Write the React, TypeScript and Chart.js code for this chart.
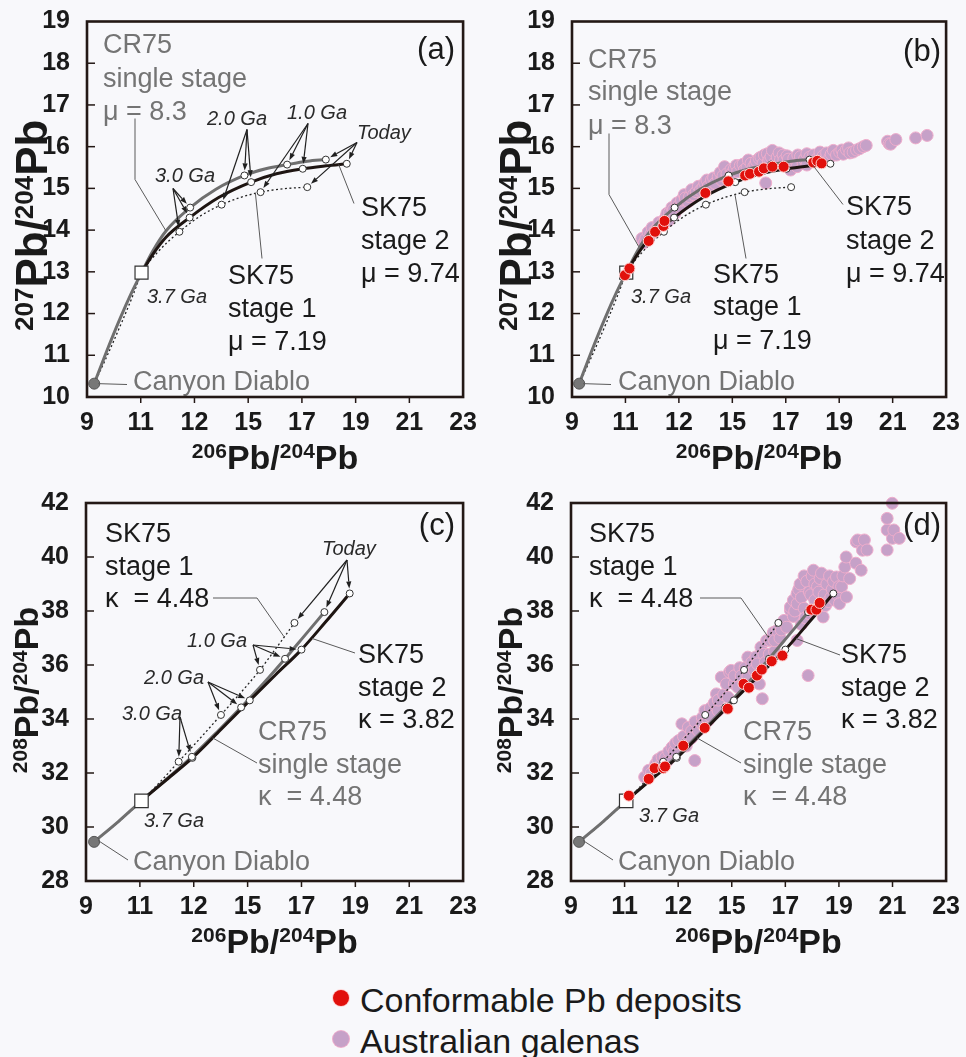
import React, { useEffect, useRef } from "react";
import { Chart, registerables } from "chart.js";

Chart.register(...registerables);

type Pt = [number, number];

const FONT = '"Liberation Sans", Arial, Helvetica, sans-serif';
const BG = "#f8f8fb";
const FRAME = "#231815";
const INK = "#1a1a1a";
const GREY_TEXT = "#747474";
const GREY_LINE = "#6f6f6f";
const BLACK_LINE = "#1e1512";
const RED = "#e1100c";
const RED_EDGE = "#ffd2d2";
const PINK = "#c6a1c8";
const PINK_EDGE = "#eeaccb";

// ---------------- axes ----------------
const xTickValues = [9, 11, 13, 15, 17, 19, 21, 23];
const xTickLabels = ["9", "11", "12", "15", "17", "19", "21", "23"];
const y207Ticks = [10, 11, 12, 13, 14, 15, 16, 17, 18, 19];
const y208Ticks = [28, 30, 32, 34, 36, 38, 40, 42];

// ---------------- 206Pb/204Pb vs 207Pb/204Pb (a, b) ----------------
const canyonDiablo207: Pt[] = [[9.27, 10.32]];
const start37Ga207: Pt[] = [[11.03, 12.98]];
const cr75Curve207: Pt[] = [
  [9.27, 10.32], [9.74, 11.11], [10.23, 11.88], [10.66, 12.5], [11.03, 12.98],
  [11.45, 13.5], [11.94, 13.98], [12.84, 14.54], [13.8, 14.98], [14.86, 15.31],
  [15.65, 15.47], [16.45, 15.57], [17.2, 15.65], [17.89, 15.69],
];
const sk75Stage2Curve207: Pt[] = [
  [11.03, 12.98], [11.45, 13.42], [11.94, 13.83], [12.82, 14.3], [13.9, 14.78],
  [15.11, 15.15], [16.05, 15.35], [17.03, 15.47], [17.9, 15.54], [18.67, 15.59],
];
const sk75Stage1Curve207: Pt[] = [
  [9.27, 10.32], [9.8, 11.06], [10.3, 11.8], [10.7, 12.42], [11.03, 12.96],
  [11.6, 13.45], [12.44, 13.96], [13.2, 14.33], [14.01, 14.61], [14.7, 14.78],
  [15.46, 14.91], [16.3, 14.99], [17.2, 15.03],
];
const cr75Nodes207: Pt[] = [[12.84, 14.54], [14.86, 15.31], [16.45, 15.57], [17.89, 15.69]];
const sk75Stage2Nodes207: Pt[] = [[12.82, 14.3], [15.11, 15.15], [17.03, 15.47], [18.67, 15.59]];
const sk75Stage1Nodes207: Pt[] = [[12.44, 13.96], [14.01, 14.61], [15.46, 14.91], [17.2, 15.03]];
const conformable207: Pt[] = [
  [10.98, 12.92], [11.15, 13.08], [11.87, 13.74], [12.11, 13.96], [12.42, 14.1],
  [12.46, 14.22], [13.99, 14.89], [14.85, 15.17], [15.48, 15.31], [15.66, 15.35],
  [16.0, 15.4], [16.18, 15.48], [16.5, 15.52], [16.92, 15.52], [18.03, 15.62],
  [18.18, 15.66], [18.34, 15.6],
];
const galenas207: Pt[] = [
  [11.62, 13.8], [11.7, 13.7], [11.76, 13.79], [11.85, 13.95], [11.95, 13.9],
  [12.0, 14.06], [12.1, 13.98], [12.2, 14.05], [12.25, 14.18], [12.35, 14.1],
  [12.4, 14.2], [12.5, 14.3], [12.55, 14.4], [12.6, 14.22], [12.65, 14.42],
  [12.74, 14.54], [12.8, 14.5], [12.85, 14.4], [12.93, 14.65], [13.0, 14.6],
  [13.05, 14.55], [13.1, 14.72], [13.2, 14.85], [13.24, 14.77], [13.35, 14.68],
  [13.4, 14.8], [13.48, 14.97], [13.55, 14.85], [13.65, 14.92], [13.73, 15.05],
  [13.8, 14.95], [13.9, 15.02], [13.97, 15.13], [14.05, 15.2], [14.1, 15.05],
  [14.22, 15.2], [14.3, 15.25], [14.35, 15.12], [14.47, 15.28], [14.55, 15.38],
  [14.6, 15.2], [14.65, 15.3], [14.71, 15.52], [14.8, 15.35], [14.95, 15.45],
  [15.0, 15.38], [15.08, 15.48], [15.15, 15.55], [15.2, 15.4], [15.3, 15.55],
  [15.4, 15.58], [15.45, 15.44], [15.55, 15.5], [15.6, 15.68], [15.7, 15.6],
  [15.8, 15.52], [15.85, 15.58], [15.9, 15.66], [16.0, 15.72], [16.07, 15.75],
  [16.15, 15.6], [16.2, 15.8], [16.25, 15.13], [16.31, 15.83], [16.35, 15.66],
  [16.4, 15.7], [16.45, 15.76], [16.5, 15.91], [16.6, 15.62], [16.68, 15.75],
  [16.75, 15.85], [16.8, 15.68], [16.9, 15.8], [16.93, 15.67], [17.05, 15.78],
  [17.1, 15.7], [17.18, 15.44], [17.3, 15.64], [17.3, 15.72], [17.42, 15.52],
  [17.45, 15.8], [17.55, 15.76], [17.65, 15.6], [17.7, 15.7], [17.79, 15.83],
  [17.79, 15.56], [17.9, 15.75], [18.0, 15.7], [18.04, 15.8], [18.15, 15.7],
  [18.28, 15.87], [18.28, 15.66], [18.4, 15.78], [18.45, 15.7], [18.53, 15.85],
  [18.65, 15.74], [18.7, 15.82], [18.78, 15.91], [18.9, 15.8], [19.02, 15.87],
  [19.1, 15.92], [19.15, 15.82], [19.27, 15.93], [19.35, 15.97], [19.4, 15.85],
  [19.52, 15.87], [19.65, 15.92], [19.76, 15.95], [19.9, 16.0], [20.01, 16.03],
  [20.81, 16.13], [20.87, 16.07], [20.93, 16.06], [21.12, 16.17], [21.86, 16.21],
  [22.29, 16.27],
];

// ---------------- 206Pb/204Pb vs 208Pb/204Pb (c, d) ----------------
const canyonDiablo208: Pt[] = [[9.3, 29.45]];
const start37Ga208: Pt[] = [[11.06, 30.97]];
const cr75Curve208: Pt[] = [
  [9.3, 29.45], [10.2, 30.2], [11.06, 30.97], [12.0, 31.78], [12.93, 32.6],
  [13.85, 33.5], [14.76, 34.43], [15.6, 35.33], [16.39, 36.23], [17.1, 37.07],
  [17.85, 37.96],
];
const sk75Stage2Curve208: Pt[] = [
  [11.06, 30.97], [12.0, 31.76], [12.95, 32.56], [14.0, 33.6], [15.08, 34.69],
  [16.05, 35.65], [17.0, 36.57], [17.9, 37.6], [18.79, 38.65],
];
const sk75Stage1Curve208: Pt[] = [
  [9.3, 29.45], [10.2, 30.18], [11.06, 30.97], [11.8, 31.72], [12.44, 32.42],
  [13.25, 33.3], [14.01, 34.15], [14.75, 34.98], [15.46, 35.82], [16.1, 36.68],
  [16.74, 37.56],
];
const cr75Nodes208: Pt[] = [[12.93, 32.6], [14.76, 34.43], [16.39, 36.23], [17.85, 37.96]];
const sk75Stage2Nodes208: Pt[] = [[12.95, 32.56], [15.08, 34.69], [17.0, 36.57], [18.79, 38.65]];
const sk75Stage1Nodes208: Pt[] = [[12.44, 32.42], [14.01, 34.15], [15.46, 35.82], [16.74, 37.56]];
const conformable208: Pt[] = [
  [11.16, 31.16], [11.9, 31.78], [12.12, 32.18], [12.45, 32.18], [12.51, 32.24],
  [13.19, 33.01], [13.99, 33.67], [14.85, 34.38], [15.44, 35.3], [15.64, 35.16],
  [15.94, 35.61], [16.12, 35.83], [16.49, 36.14], [16.89, 36.35], [17.97, 38.05],
  [18.16, 38.05], [18.28, 38.3],
];
const galenas208: Pt[] = [
  [11.75, 31.85], [11.9, 32.1], [12.0, 32.0], [12.16, 32.33], [12.25, 32.5],
  [12.3, 32.25], [12.4, 32.6], [12.53, 32.58], [12.6, 32.45], [12.65, 32.8],
  [12.77, 32.95], [12.85, 32.8], [12.9, 33.1], [13.02, 33.2], [13.14, 33.82],
  [13.2, 33.35], [13.3, 33.0], [13.38, 33.2], [13.38, 33.69], [13.5, 33.55],
  [13.5, 33.3], [13.62, 32.46], [13.63, 33.9], [13.75, 33.57], [13.9, 34.05],
  [13.9, 33.8], [14.0, 34.31], [14.12, 33.94], [14.2, 34.4], [14.2, 34.1],
  [14.35, 34.6], [14.43, 34.93], [14.49, 34.31], [14.5, 34.7], [14.61, 35.55],
  [14.7, 34.9], [14.8, 35.3], [14.86, 34.81], [14.92, 35.74], [14.98, 35.8],
  [15.1, 35.3], [15.1, 35.6], [15.23, 35.18], [15.3, 35.9], [15.35, 35.6],
  [15.5, 35.9], [15.6, 35.55], [15.6, 36.29], [15.75, 36.1], [15.84, 35.8],
  [15.9, 36.3], [15.96, 36.04], [16.03, 35.3], [16.09, 36.66], [16.14, 34.75],
  [16.2, 36.4], [16.25, 36.1], [16.3, 36.9], [16.4, 36.4], [16.45, 36.91],
  [16.55, 37.2], [16.6, 36.5], [16.6, 36.9], [16.7, 37.28], [16.8, 37.0],
  [16.85, 37.3], [16.95, 37.65], [17.05, 37.4], [17.19, 38.03], [17.19, 38.15],
  [17.3, 37.8], [17.3, 38.4], [17.35, 38.0], [17.44, 38.27], [17.44, 38.65],
  [17.44, 36.91], [17.5, 38.8], [17.55, 39.0], [17.6, 38.5], [17.6, 37.5],
  [17.7, 38.1], [17.7, 39.3], [17.75, 37.75], [17.8, 39.1], [17.85, 35.61],
  [17.9, 38.7], [17.9, 37.9], [17.95, 38.6], [18.0, 39.3], [18.0, 38.0],
  [18.05, 39.51], [18.1, 38.4], [18.1, 39.0], [18.2, 38.9], [18.2, 38.1],
  [18.25, 38.7], [18.3, 39.2], [18.35, 39.4], [18.41, 37.78], [18.45, 38.6],
  [18.5, 38.2], [18.55, 39.0], [18.6, 38.35], [18.65, 39.3], [18.7, 38.5],
  [18.75, 38.8], [18.8, 39.1], [18.85, 38.4], [18.91, 39.26], [18.95, 38.6],
  [19.0, 38.9], [19.02, 38.27], [19.1, 38.9], [19.15, 39.3], [19.22, 39.63],
  [19.27, 40.0], [19.28, 38.52], [19.4, 39.2], [19.63, 39.77], [19.65, 40.56],
  [19.7, 40.63], [19.83, 39.51], [19.88, 40.25], [19.95, 40.63], [20.05, 40.26],
  [20.8, 40.26], [20.8, 41.0], [20.8, 41.43], [20.99, 41.99], [21.0, 40.69],
  [21.05, 41.0], [21.25, 40.69],
];

// ---------------- helpers ----------------
const xy = (arr: Pt[]) => arr.map(([x, y]) => ({ x, y }));

function curve(arr: Pt[], color: string, width: number, order: number, dash: number[] = []) {
  return {
    type: "line",
    data: xy(arr),
    showLine: true,
    borderColor: color,
    borderWidth: width,
    borderDash: dash,
    borderCapStyle: "butt",
    pointRadius: 0,
    pointHoverRadius: 0,
    cubicInterpolationMode: "monotone",
    fill: false,
    order,
    clip: false,
  };
}

function pts(arr: Pt[], r: number, bg: string, border: string, bw: number, order: number, style = "circle") {
  return {
    type: "scatter",
    data: xy(arr),
    showLine: false,
    pointRadius: r,
    pointHoverRadius: r,
    pointBackgroundColor: bg,
    pointBorderColor: border,
    pointBorderWidth: bw,
    pointStyle: style,
    order,
    clip: false,
  };
}

type TextItem = { t: string; x: number; y: number; color: string; font: string; align?: CanvasTextAlign };
type Leader = { pts: Pt[]; end: Pt };
type ArrowSet = { from: Pt; to: Pt[] };
type TitlePart = { t: string; sup?: boolean };

interface PanelCfg {
  key: string;
  left: number;
  top: number;
  w: number;
  h: number;
  yTicks: number[];
  yAxisWidth: number;
  padRight: number;
  padTop: number;
  padBottom: number;
  yTitle: TitlePart[];
  yTitleSize: number;
  yTitleSup: number;
  yTitleRaise: number;
  yTitleDx: number;
  yTitleDy: number;
  datasets: any[];
  texts: TextItem[];
  leaders: Leader[];
  arrows: ArrowSet[];
}

const FT = `27px ${FONT}`;
const FIT = `italic 20px ${FONT}`;
const FTAG = `31px ${FONT}`;
const T = (t: string, x: number, y: number, color: string, font: string, align?: CanvasTextAlign): TextItem => ({ t, x, y, color, font, align });
const block = (lines: string[], x: number, ys: number[], color: string, font: string) =>
  lines.map((l, i) => T(l, x, ys[i], color, font));

const title207: TitlePart[] = [{ t: "207", sup: true }, { t: "Pb" }, { t: "/" }, { t: "204", sup: true }, { t: "Pb" }];
const title208: TitlePart[] = [{ t: "208", sup: true }, { t: "Pb" }, { t: "/" }, { t: "204", sup: true }, { t: "Pb" }];
const title206: TitlePart[] = [{ t: "206", sup: true }, { t: "Pb" }, { t: "/" }, { t: "204", sup: true }, { t: "Pb" }];

function drawTitle(ctx: CanvasRenderingContext2D, parts: TitlePart[], size: number, supSize: number, raise: number) {
  const main = `bold ${size}px ${FONT}`;
  const sup = `bold ${supSize}px ${FONT}`;
  let w = 0;
  const ws = parts.map((p) => {
    ctx.font = p.sup ? sup : main;
    const m = ctx.measureText(p.t).width;
    w += m;
    return m;
  });
  let x = -w / 2;
  ctx.textAlign = "left";
  ctx.textBaseline = "alphabetic";
  ctx.fillStyle = INK;
  parts.forEach((p, i) => {
    ctx.font = p.sup ? sup : main;
    ctx.fillText(p.t, x, p.sup ? -raise : 0);
    x += ws[i];
  });
}

function makePlugin(cfg: PanelCfg) {
  return {
    id: "annot" + cfg.key,
    afterDatasetsDraw(chart: any) {
      const { ctx, chartArea: a } = chart;
      const xs = chart.scales.x;
      const ys = chart.scales.y;
      const rel = (p: Pt): Pt => [a.left + p[0], a.top + p[1]];
      const dat = (p: Pt): Pt => [xs.getPixelForValue(p[0]), ys.getPixelForValue(p[1])];
      ctx.save();

      // leader lines
      ctx.strokeStyle = "#5a5a5a";
      ctx.lineWidth = 1;
      ctx.setLineDash([]);
      for (const l of cfg.leaders) {
        ctx.beginPath();
        l.pts.forEach((p, i) => {
          const [x, y] = rel(p);
          if (i === 0) ctx.moveTo(x, y);
          else ctx.lineTo(x, y);
        });
        const [ex, ey] = dat(l.end);
        ctx.lineTo(ex, ey);
        ctx.stroke();
      }

      // arrows
      ctx.strokeStyle = "#202020";
      ctx.fillStyle = "#202020";
      ctx.lineWidth = 1.2;
      for (const ar of cfg.arrows) {
        const [sx, sy] = rel(ar.from);
        for (const t of ar.to) {
          const [tx, ty] = dat(t);
          const ang = Math.atan2(ty - sy, tx - sx);
          const ex = tx - Math.cos(ang) * 5;
          const ey = ty - Math.sin(ang) * 5;
          const hl = 7;
          const hw = 2.6;
          const bx = ex - Math.cos(ang) * hl;
          const by = ey - Math.sin(ang) * hl;
          ctx.beginPath();
          ctx.moveTo(sx, sy);
          ctx.lineTo(bx, by);
          ctx.stroke();
          ctx.beginPath();
          ctx.moveTo(ex, ey);
          ctx.lineTo(bx + Math.sin(ang) * hw, by - Math.cos(ang) * hw);
          ctx.lineTo(bx - Math.sin(ang) * hw, by + Math.cos(ang) * hw);
          ctx.closePath();
          ctx.fill();
        }
      }

      // texts
      ctx.textBaseline = "alphabetic";
      for (const t of cfg.texts) {
        ctx.font = t.font;
        ctx.fillStyle = t.color;
        ctx.textAlign = t.align || "left";
        const [x, y] = rel([t.x, t.y]);
        ctx.fillText(t.t, x, y);
      }

      // tick marks
      ctx.strokeStyle = FRAME;
      ctx.lineWidth = 1.5;
      cfg.yTicks.slice(1, -1).forEach((v) => {
        const py = ys.getPixelForValue(v);
        ctx.beginPath();
        ctx.moveTo(a.left, py);
        ctx.lineTo(a.left + 8, py);
        ctx.stroke();
      });
      xTickValues.slice(1, -1).forEach((v) => {
        const px = xs.getPixelForValue(v);
        ctx.beginPath();
        ctx.moveTo(px, a.bottom);
        ctx.lineTo(px, a.bottom + 6);
        ctx.stroke();
      });

      // frame
      ctx.lineWidth = 2.6;
      ctx.strokeRect(a.left, a.top, a.right - a.left, a.bottom - a.top);

      // axis titles
      ctx.save();
      ctx.translate((a.left + a.right) / 2, a.bottom + 72);
      drawTitle(ctx, title206, 34, 21, 11);
      ctx.restore();

      ctx.save();
      ctx.translate(a.left + cfg.yTitleDx, (a.top + a.bottom) / 2 + cfg.yTitleDy);
      ctx.rotate(-Math.PI / 2);
      drawTitle(ctx, cfg.yTitle, cfg.yTitleSize, cfg.yTitleSup, cfg.yTitleRaise);
      ctx.restore();

      ctx.restore();
    },
  };
}

function buildConfig(cfg: PanelCfg) {
  const tickFont = { family: FONT, size: 25, weight: "bold", lineHeight: 1 };
  return {
    type: "scatter",
    data: { datasets: cfg.datasets },
    options: {
      responsive: false,
      animation: false,
      events: [],
      devicePixelRatio: 1,
      layout: { padding: { left: 0, right: cfg.padRight, top: cfg.padTop, bottom: cfg.padBottom } },
      plugins: { legend: { display: false }, tooltip: { enabled: false } },
      scales: {
        x: {
          type: "linear",
          min: xTickValues[0],
          max: xTickValues[xTickValues.length - 1],
          grid: { display: false },
          border: { display: false },
          afterBuildTicks: (s: any) => {
            s.ticks = xTickValues.map((v) => ({ value: v }));
          },
          ticks: {
            callback: (v: number) => {
              const i = xTickValues.indexOf(v);
              return i >= 0 ? xTickLabels[i] : "";
            },
            font: tickFont,
            color: INK,
            padding: 6,
            maxRotation: 0,
            minRotation: 0,
            autoSkip: false,
          },
          afterFit: (s: any) => {
            s.height = 40;
          },
        },
        y: {
          type: "linear",
          min: cfg.yTicks[0],
          max: cfg.yTicks[cfg.yTicks.length - 1],
          grid: { display: false },
          border: { display: false },
          afterBuildTicks: (s: any) => {
            s.ticks = cfg.yTicks.map((v) => ({ value: v }));
          },
          ticks: { font: tickFont, color: INK, padding: 9, autoSkip: false },
          afterFit: (s: any) => {
            s.width = cfg.yAxisWidth;
          },
        },
      },
    },
    plugins: [makePlugin(cfg)],
  };
}

// ---------------- datasets ----------------
function modelDatasets207() {
  return [
    pts(cr75Nodes207, 3.5, "#ffffff", "#333333", 1, 1),
    pts(sk75Stage2Nodes207, 3.5, "#ffffff", "#333333", 1, 1),
    pts(sk75Stage1Nodes207, 3.5, "#ffffff", "#333333", 1, 1),
    pts(start37Ga207, 9.2, "#ffffff", "#333333", 1.2, 2, "rect"),
    pts(canyonDiablo207, 5.5, "#777777", "#555555", 1, 2),
    curve(sk75Stage2Curve207, BLACK_LINE, 3, 3),
    curve(cr75Curve207, GREY_LINE, 3, 4),
    curve(sk75Stage1Curve207, "#222222", 1.3, 5, [2, 2.5]),
  ];
}
function modelDatasets208() {
  return [
    pts(cr75Nodes208, 3.5, "#ffffff", "#333333", 1, 1),
    pts(sk75Stage2Nodes208, 3.5, "#ffffff", "#333333", 1, 1),
    pts(sk75Stage1Nodes208, 3.5, "#ffffff", "#333333", 1, 1),
    pts(start37Ga208, 9.5, "#ffffff", "#333333", 1.2, 2, "rect"),
    pts(canyonDiablo208, 5.5, "#777777", "#555555", 1, 2),
    curve(sk75Stage2Curve208, BLACK_LINE, 3, 3),
    curve(cr75Curve208, GREY_LINE, 3, 4),
    curve(sk75Stage1Curve208, "#222222", 1.3, 5, [2, 2.5]),
  ];
}

// ---------------- panels ----------------
const panelA: PanelCfg = {
  key: "a", left: 0, top: 0, w: 483, h: 480,
  yTicks: y207Ticks, yAxisWidth: 87, padRight: 17, padTop: 15, padBottom: 43,
  yTitle: title207, yTitleSize: 44, yTitleSup: 26, yTitleRaise: 14, yTitleDx: -40, yTitleDy: 16,
  datasets: modelDatasets207(),
  texts: [
    ...block(["CR75", "single stage", "μ = 8.3"], 16, [31, 65, 98], GREY_TEXT, FT),
    T("(a)", 368, 37, INK, FTAG, "right"),
    T("3.0 Ga", 68, 160, "#2a2a2a", FIT),
    T("2.0 Ga", 120, 103, "#2a2a2a", FIT),
    T("1.0 Ga", 200, 97, "#2a2a2a", FIT),
    T("Today", 270, 117, "#2a2a2a", FIT),
    T("3.7 Ga", 60, 281, "#2a2a2a", FIT),
    ...block(["SK75", "stage 2", "μ = 9.74"], 274, [194, 227, 260], INK, FT),
    ...block(["SK75", "stage 1", "μ = 7.19"], 141, [262, 295, 328], INK, FT),
    T("Canyon Diablo", 46, 368, GREY_TEXT, FT),
  ],
  leaders: [
    { pts: [[48, 97], [48, 158]], end: [11.94, 13.98] },
    { pts: [[175, 237]], end: [15.27, 14.88] },
    { pts: [[267, 182]], end: [18.37, 15.57] },
    { pts: [[40, 363]], end: [9.42, 10.32] },
  ],
  arrows: [
    { from: [86, 167], to: [cr75Nodes207[0], sk75Stage2Nodes207[0], sk75Stage1Nodes207[0]] },
    { from: [160, 108], to: [cr75Nodes207[1], sk75Stage2Nodes207[1], sk75Stage1Nodes207[1]] },
    { from: [221, 102], to: [cr75Nodes207[2], sk75Stage2Nodes207[2], sk75Stage1Nodes207[2]] },
    { from: [270, 121], to: [cr75Nodes207[3], sk75Stage2Nodes207[3], sk75Stage1Nodes207[3]] },
  ],
};

const panelB: PanelCfg = {
  key: "b", left: 483, top: 0, w: 483, h: 480,
  yTicks: y207Ticks, yAxisWidth: 89, padRight: 15, padTop: 15, padBottom: 43,
  yTitle: title207, yTitleSize: 44, yTitleSup: 26, yTitleRaise: 14, yTitleDx: -41, yTitleDy: 16,
  datasets: [
    pts(conformable207, 5.5, RED, RED_EDGE, 1, 0),
    ...modelDatasets207(),
    pts(galenas207, 6, PINK, PINK_EDGE, 1, 6),
  ],
  texts: [
    ...block(["CR75", "single stage", "μ = 8.3"], 16, [46, 78, 112], GREY_TEXT, FT),
    T("(b)", 369, 39, INK, FTAG, "right"),
    T("3.7 Ga", 59, 281, "#2a2a2a", FIT),
    ...block(["SK75", "stage 2", "μ = 9.74"], 274, [193, 227, 260], INK, FT),
    ...block(["SK75", "stage 1", "μ = 7.19"], 141, [261, 293, 327], INK, FT),
    T("Canyon Diablo", 46, 368, GREY_TEXT, FT),
  ],
  leaders: [
    { pts: [[37, 112], [37, 173]], end: [11.5, 13.6] },
    { pts: [[174, 237]], end: [15.1, 14.85] },
    { pts: [[271, 183]], end: [18.02, 15.55] },
    { pts: [[39, 363]], end: [9.42, 10.32] },
  ],
  arrows: [],
};

const panelC: PanelCfg = {
  key: "c", left: 0, top: 480, w: 483, h: 480,
  yTicks: y208Ticks, yAxisWidth: 86, padRight: 18, padTop: 23, padBottom: 39,
  yTitle: title208, yTitleSize: 34, yTitleSup: 21, yTitleRaise: 11, yTitleDx: -48, yTitleDy: -2,
  datasets: modelDatasets208(),
  texts: [
    ...block(["SK75", "stage 1", "κ  = 4.48"], 19, [39, 72, 104], INK, FT),
    T("(c)", 369, 32, INK, FTAG, "right"),
    T("Today", 236, 52, "#2a2a2a", FIT),
    T("1.0 Ga", 101, 144, "#2a2a2a", FIT),
    T("2.0 Ga", 58, 181, "#2a2a2a", FIT),
    T("3.0 Ga", 36, 217, "#2a2a2a", FIT),
    T("3.7 Ga", 58, 324, "#2a2a2a", FIT),
    ...block(["SK75", "stage 2", "κ = 3.82"], 272, [160, 193, 225], INK, FT),
    ...block(["CR75", "single stage", "κ  = 4.48"], 172, [237, 270, 302], GREY_TEXT, FT),
    T("Canyon Diablo", 47, 367, GREY_TEXT, FT),
  ],
  leaders: [
    { pts: [[127, 95], [171, 95]], end: [16.35, 37.05] },
    { pts: [[171, 260]], end: [13.7, 33.3] },
    { pts: [[269, 150]], end: [17.4, 36.98] },
    { pts: [[42, 357]], end: [9.45, 29.5] },
  ],
  arrows: [
    { from: [261, 57], to: [sk75Stage1Nodes208[3], cr75Nodes208[3], sk75Stage2Nodes208[3]] },
    { from: [167, 142], to: [sk75Stage1Nodes208[2], cr75Nodes208[2], sk75Stage2Nodes208[2]] },
    { from: [122, 179], to: [sk75Stage1Nodes208[1], cr75Nodes208[1], sk75Stage2Nodes208[1]] },
    { from: [94, 214], to: [sk75Stage1Nodes208[0], cr75Nodes208[0]] },
  ],
};

const panelD: PanelCfg = {
  key: "d", left: 483, top: 480, w: 483, h: 480,
  yTicks: y208Ticks, yAxisWidth: 88, padRight: 15, padTop: 23, padBottom: 39,
  yTitle: title208, yTitleSize: 34, yTitleSup: 21, yTitleRaise: 11, yTitleDx: -49, yTitleDy: -2,
  datasets: [
    pts(conformable208, 5.5, RED, RED_EDGE, 1, 0),
    ...modelDatasets208(),
    pts(galenas208, 6, PINK, PINK_EDGE, 1, 6),
  ],
  texts: [
    ...block(["SK75", "stage 1", "κ  = 4.48"], 18, [39, 72, 104], INK, FT),
    T("(d)", 370, 32, INK, FTAG, "right"),
    T("3.7 Ga", 68, 319, "#2a2a2a", FIT),
    ...block(["SK75", "stage 2", "κ = 3.82"], 270, [160, 193, 225], INK, FT),
    ...block(["CR75", "single stage", "κ  = 4.48"], 172, [237, 270, 302], GREY_TEXT, FT),
    T("Canyon Diablo", 47, 367, GREY_TEXT, FT),
  ],
  leaders: [
    { pts: [[129, 95], [170, 95]], end: [16.35, 37.05] },
    { pts: [[170, 260]], end: [13.7, 33.3] },
    { pts: [[269, 152]], end: [17.4, 36.98] },
    { pts: [[42, 357]], end: [9.45, 29.5] },
  ],
  arrows: [],
};

const legendItems = [
  { label: "Conformable Pb deposits", color: RED, edge: RED_EDGE },
  { label: "Australian galenas", color: PINK, edge: PINK_EDGE },
];

function Panel({ cfg }: { cfg: PanelCfg }) {
  const ref = useRef<HTMLCanvasElement | null>(null);
  useEffect(() => {
    if (!ref.current) return;
    const chart = new Chart(ref.current, buildConfig(cfg) as any);
    return () => chart.destroy();
  }, [cfg]);
  return (
    <div style={{ position: "absolute", left: cfg.left, top: cfg.top, width: cfg.w, height: cfg.h }}>
      <canvas ref={ref} width={cfg.w} height={cfg.h} style={{ width: cfg.w, height: cfg.h, display: "block" }} />
    </div>
  );
}

export default function App() {
  return (
    <div
      style={{
        position: "absolute",
        left: 0,
        top: 0,
        width: 966,
        height: 1057,
        background: BG,
        overflow: "hidden",
        fontFamily: FONT,
      }}
    >
      <Panel cfg={panelA} />
      <Panel cfg={panelB} />
      <Panel cfg={panelC} />
      <Panel cfg={panelD} />
      {legendItems.map((it, i) => (
        <div key={it.label} style={{ position: "absolute", left: 333, top: 983 + i * 41, height: 34, whiteSpace: "nowrap" }}>
          <span
            style={{
              position: "absolute",
              left: 0,
              top: 7,
              width: 16,
              height: 16,
              borderRadius: 8,
              background: it.color,
              boxShadow: `0 0 0 1px ${it.edge}`,
            }}
          />
          <span style={{ position: "absolute", left: 27, top: 0, fontSize: 34, lineHeight: "34px", color: INK }}>{it.label}</span>
        </div>
      ))}
    </div>
  );
}
